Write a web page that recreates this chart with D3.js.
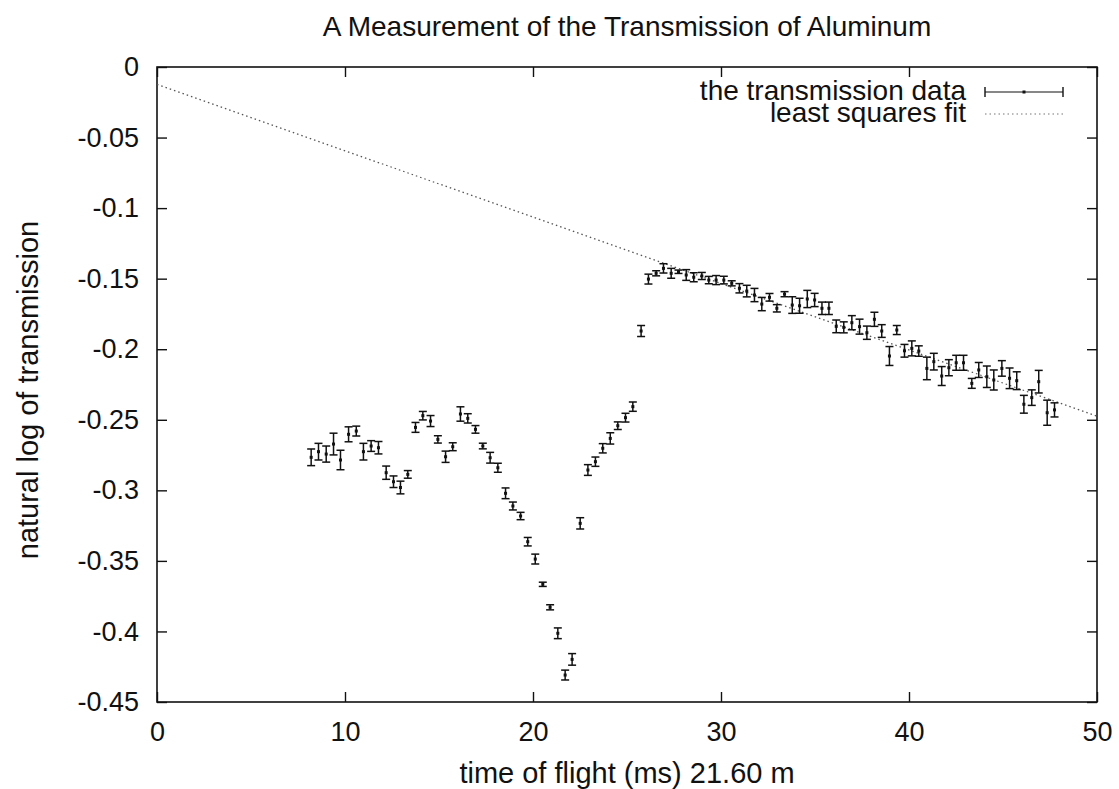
<!DOCTYPE html>
<html>
<head>
<meta charset="utf-8">
<script src="https://cdn.jsdelivr.net/npm/d3@7"></script>
<style>
  html, body { margin: 0; padding: 0; background: #fff; }
  svg { display: block; }
  text { font-family: "Liberation Sans", Arial, Helvetica, sans-serif; fill: #111; }
</style>
</head>
<body>
<svg id="chart" width="1119" height="789"></svg>
<script>
// Time of flight (ms) for each transmission measurement
const timeOfFlight = [8.20, 8.59, 9.00, 9.39, 9.76, 10.19, 10.60, 10.98, 11.39, 11.78, 12.19, 12.58, 12.95,
  13.34, 13.75, 14.14, 14.55, 14.94, 15.35, 15.73, 16.14, 16.53, 16.94, 17.33, 17.72, 18.13, 18.54, 18.93,
  19.34, 19.72, 20.12, 20.52, 20.91, 21.32, 21.71, 22.08, 22.51, 22.92, 23.32, 23.71, 24.11, 24.51, 24.92, 25.31,
  25.75, 26.14, 26.55, 26.94, 27.35, 27.74, 28.15, 28.55, 28.98, 29.35, 29.74, 30.15, 30.57, 30.98, 31.37,
  31.78, 32.17, 32.58, 32.97, 33.38, 33.79, 34.18, 34.59, 34.98, 35.37, 35.74,
  36.13, 36.53, 36.96, 37.37, 37.76, 38.16, 38.55, 38.96, 39.35, 39.76, 40.15, 40.52, 40.95, 41.32, 41.74,
  42.12, 42.51, 42.90, 43.34, 43.71, 44.14, 44.51, 44.94, 45.35, 45.73, 46.11, 46.53, 46.90, 47.35, 47.74];

// Natural log of the measured transmission
const logTransmission = [-0.2766, -0.2726, -0.2743, -0.2672, -0.2785, -0.2603, -0.2580, -0.2726, -0.2686, -0.2698, -0.2875, -0.2939, -0.2980,
  -0.2887, -0.2554, -0.2471, -0.2509, -0.2639, -0.2762, -0.2691, -0.2459, -0.2490, -0.2568, -0.2686, -0.2769, -0.2840, -0.3021, -0.3111,
  -0.3182, -0.3364, -0.3487, -0.3666, -0.3829, -0.4013, -0.4309, -0.4198, -0.3234, -0.2856, -0.2797, -0.2702, -0.2632, -0.2542, -0.2485, -0.2407,
  -0.1871, -0.1503, -0.1462, -0.1427, -0.1462, -0.1451, -0.1474, -0.1490, -0.1481, -0.1510, -0.1510, -0.1510, -0.1533, -0.1568, -0.1588,
  -0.1616, -0.1680, -0.1632, -0.1710, -0.1610, -0.1687, -0.1692, -0.1644, -0.1651, -0.1710, -0.1710,
  -0.1838, -0.1845, -0.1812, -0.1840, -0.1883, -0.1788, -0.1871, -0.2048, -0.1864, -0.2011, -0.1994, -0.2013, -0.2136, -0.2088, -0.2190,
  -0.2131, -0.2096, -0.2096, -0.2242, -0.2147, -0.2195, -0.2218, -0.2136, -0.2206, -0.2223, -0.2390, -0.2343, -0.2230, -0.2450, -0.2430];

// Uncertainty (half-width of each error bar)
const logError = [0.0059, 0.0059, 0.0057, 0.0077, 0.0069, 0.0053, 0.0035, 0.0059, 0.0038, 0.0044, 0.0047, 0.0041, 0.0045,
  0.0027, 0.0035, 0.0030, 0.0039, 0.0026, 0.0040, 0.0028, 0.0051, 0.0033, 0.0027, 0.0020, 0.0038, 0.0032, 0.0038, 0.0028,
  0.0026, 0.0030, 0.0035, 0.0015, 0.0018, 0.0038, 0.0035, 0.0041, 0.0040, 0.0038, 0.0033, 0.0033, 0.0040, 0.0027, 0.0031, 0.0033,
  0.0039, 0.0035, 0.0018, 0.0033, 0.0035, 0.0012, 0.0038, 0.0032, 0.0025, 0.0026, 0.0032, 0.0027, 0.0018, 0.0033, 0.0041,
  0.0047, 0.0047, 0.0027, 0.0026, 0.0018, 0.0059, 0.0053, 0.0061, 0.0047, 0.0044, 0.0044,
  0.0045, 0.0039, 0.0050, 0.0053, 0.0047, 0.0050, 0.0045, 0.0067, 0.0032, 0.0045, 0.0053, 0.0037, 0.0080, 0.0059, 0.0067,
  0.0057, 0.0053, 0.0053, 0.0035, 0.0053, 0.0076, 0.0071, 0.0055, 0.0073, 0.0063, 0.0063, 0.0055, 0.0080, 0.0089, 0.0050];

// Least squares fit: ln T = fitIntercept + fitSlope * t
const fitIntercept = -0.0123;
const fitSlope = -0.004704;

const xTicks = [0, 10, 20, 30, 40, 50];
const yTicks = [0, -0.05, -0.1, -0.15, -0.2, -0.25, -0.3, -0.35, -0.4, -0.45];
const yTickLabels = ["0", "-0.05", "-0.1", "-0.15", "-0.2", "-0.25", "-0.3", "-0.35", "-0.4", "-0.45"];

const titleText = "A Measurement of the Transmission of Aluminum";
const xLabelText = "time of flight (ms) 21.60 m";
const yLabelText = "natural log of transmission";
const legendLabels = ["the transmission data", "least squares fit"];

const svg = d3.select("#chart");
const plotLeft = 157, plotRight = 1097, plotTop = 67, plotBottom = 702;
const tickFont = "27px", titleFont = "28px", axisLabelFont = "29px", legendFont = "28px";

const x = d3.scaleLinear().domain([0, 50]).range([plotLeft, plotRight]);
const y = d3.scaleLinear().domain([-0.45, 0]).range([plotBottom, plotTop]);

const points = timeOfFlight.map((t, i) => ({ t, v: logTransmission[i], e: logError[i] }));

// Axes: inward ticks on all four sides (mirrored)
const tickLen = 10;
const axisG = svg.append("g");

axisG.append("g").attr("transform", `translate(0,${plotBottom})`)
  .call(d3.axisBottom(x).tickValues(xTicks).tickSizeInner(-tickLen).tickSizeOuter(0).tickPadding(20).tickFormat(d3.format("d")));
axisG.append("g").attr("transform", `translate(0,${plotTop})`)
  .call(d3.axisTop(x).tickValues(xTicks).tickSizeInner(-tickLen).tickSizeOuter(0).tickFormat(""));
axisG.append("g").attr("transform", `translate(${plotLeft},0)`)
  .call(d3.axisLeft(y).tickValues(yTicks).tickSizeInner(-tickLen).tickSizeOuter(0).tickPadding(18)
    .tickFormat((d, i) => yTickLabels[i]));
axisG.append("g").attr("transform", `translate(${plotRight},0)`)
  .call(d3.axisRight(y).tickValues(yTicks).tickSizeInner(-tickLen).tickSizeOuter(0).tickFormat(""));

axisG.selectAll(".domain").remove();
axisG.selectAll(".tick line").attr("stroke", "#111").attr("stroke-width", 1.4);
axisG.selectAll(".tick text").style("font-size", tickFont).attr("fill", "#111");

// plot border
svg.append("rect")
  .attr("x", plotLeft).attr("y", plotTop)
  .attr("width", plotRight - plotLeft).attr("height", plotBottom - plotTop)
  .attr("fill", "none").attr("stroke", "#111").attr("stroke-width", 1.6);

// least squares fit line (dotted)
const fitLine = d3.line().x(d => x(d)).y(d => y(fitIntercept + fitSlope * d));
svg.append("path")
  .datum([0, 50])
  .attr("d", fitLine)
  .attr("fill", "none")
  .attr("stroke", "#555")
  .attr("stroke-width", 1.3)
  .attr("stroke-dasharray", "1.5,3");

// error bars
const capHalf = 4;
const bars = svg.append("g").attr("stroke", "#111").attr("stroke-width", 1.5);
const bar = bars.selectAll("g").data(points).join("g");
bar.append("line")
  .attr("x1", d => x(d.t)).attr("x2", d => x(d.t))
  .attr("y1", d => y(d.v - d.e)).attr("y2", d => y(d.v + d.e));
bar.append("line")
  .attr("x1", d => x(d.t) - capHalf).attr("x2", d => x(d.t) + capHalf)
  .attr("y1", d => y(d.v + d.e)).attr("y2", d => y(d.v + d.e));
bar.append("line")
  .attr("x1", d => x(d.t) - capHalf).attr("x2", d => x(d.t) + capHalf)
  .attr("y1", d => y(d.v - d.e)).attr("y2", d => y(d.v - d.e));
svg.append("g").selectAll("rect").data(points).join("rect")
  .attr("x", d => x(d.t) - 1.5).attr("y", d => y(d.v) - 1.5)
  .attr("width", 3).attr("height", 3).attr("fill", "#111");

// legend
const legX0 = 985, legX1 = 1063, legTextX = 966;
const legBase = [100, 122];
const leg = svg.append("g");
leg.selectAll("text").data(legendLabels).join("text")
  .attr("x", legTextX).attr("y", (d, i) => legBase[i])
  .attr("text-anchor", "end")
  .style("font-size", legendFont)
  .text(d => d);
const legY0 = legBase[0] - 8, legY1 = legBase[1] - 8;
leg.append("line").attr("x1", legX0).attr("x2", legX1).attr("y1", legY0).attr("y2", legY0)
  .attr("stroke", "#111").attr("stroke-width", 1.2);
[legX0, legX1].forEach(lx => leg.append("line").attr("x1", lx).attr("x2", lx)
  .attr("y1", legY0 - 5).attr("y2", legY0 + 5).attr("stroke", "#111").attr("stroke-width", 1.4));
leg.append("rect").attr("x", (legX0 + legX1) / 2 - 1.5).attr("y", legY0 - 1.5)
  .attr("width", 3).attr("height", 3).attr("fill", "#111");
leg.append("line").attr("x1", legX0).attr("x2", legX1).attr("y1", legY1).attr("y2", legY1)
  .attr("stroke", "#777").attr("stroke-width", 1.2).attr("stroke-dasharray", "1.5,3");

// title and axis labels
svg.append("text").attr("x", (plotLeft + plotRight) / 2).attr("y", 36)
  .attr("text-anchor", "middle").style("font-size", titleFont).text(titleText);
svg.append("text").attr("x", (plotLeft + plotRight) / 2).attr("y", 783)
  .attr("text-anchor", "middle").style("font-size", axisLabelFont).text(xLabelText);
svg.append("text")
  .attr("transform", `translate(38,390) rotate(-90)`)
  .attr("text-anchor", "middle").style("font-size", axisLabelFont).text(yLabelText);
</script>
</body>
</html>
